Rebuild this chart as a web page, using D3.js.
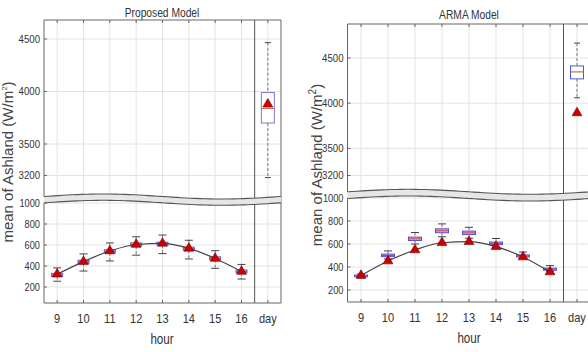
<!DOCTYPE html>
<html><head><meta charset="utf-8">
<script src="https://cdn.jsdelivr.net/npm/d3@7"></script>
<style>body{margin:0;background:#fff}svg{display:block}text{font-family:"Liberation Sans",Arial,sans-serif;fill:#333}</style>
</head><body><svg id="c" width="588" height="352"></svg>
<script>
// ---- data ----
const categories = ["9","10","11","12","13","14","15","16","day"];
const upperTicks = [3200,3500,4000,4500];
const lowerTicks = [200,400,600,800,1000];
// Proposed model: box stats per category
const propQ1   = [300,425,525,590,598,550,460,335,3700];
const propMed  = [315,440,540,605,612,565,473,348,3840];
const propQ3   = [330,455,555,620,627,580,487,362,3990];
const propLo   = [255,352,448,503,518,467,378,276,3180];
const propHi   = [382,515,620,678,695,645,546,415,4465];
const propMean = [322,442,543,605,616,568,472,348,3880];
// ARMA model
const armaQ1   = [315,490,630,698,682,595,487,372,4269];
const armaMed  = [322,500,645,715,697,605,495,380,4346];
const armaQ3   = [330,512,660,732,712,617,505,390,4412];
const armaLo   = [305,470,600,663,650,575,475,360,4060];
const armaHi   = [338,540,700,775,745,648,530,412,4665];
const armaMean = [326,452,548,611,620,577,487,357,3893];

const svg = d3.select("#c");

function panel(cfg){
  const g = svg.append("g");
  const x = d3.scaleLinear().domain([-0.5, 8.5]).range([cfg.x0, cfg.x1]);
  const yU = d3.scaleLinear().domain([3200,4500]).range(cfg.upper);
  const yL = d3.scaleLinear().domain([200,1000]).range(cfg.lower);
  const y = v => v >= 2000 ? yU(v) : yL(v);
  const axisCol = "#666";
  const idx = d3.range(categories.length);

  // gridlines
  g.selectAll(".vg").data(idx).join("line")
    .attr("x1", i=>x(i)).attr("x2", i=>x(i)).attr("y1", cfg.top).attr("y2", cfg.bottom)
    .attr("stroke","#e4e4e4").attr("stroke-width",1);
  g.selectAll(".hgu").data(upperTicks).join("line")
    .attr("x1", cfg.x0).attr("x2", cfg.x1).attr("y1", d=>yU(d)).attr("y2", d=>yU(d))
    .attr("stroke","#e4e4e4");
  g.selectAll(".hgl").data(lowerTicks).join("line")
    .attr("x1", cfg.x0).attr("x2", cfg.x1).attr("y1", d=>yL(d)).attr("y2", d=>yL(d))
    .attr("stroke","#e4e4e4");

  // ticks (inside)
  g.selectAll(".xt").data(idx).join("path")
    .attr("d", i=>`M${x(i)},${cfg.bottom}v-3M${x(i)},${cfg.top}v3`)
    .attr("stroke",axisCol);
  g.selectAll(".ytu").data(upperTicks).join("line")
    .attr("x1",cfg.x0).attr("x2",cfg.x0+3).attr("y1",d=>yU(d)).attr("y2",d=>yU(d)).attr("stroke",axisCol);
  g.selectAll(".ytl").data(lowerTicks).join("line")
    .attr("x1",cfg.x0).attr("x2",cfg.x0+3).attr("y1",d=>yL(d)).attr("y2",d=>yL(d)).attr("stroke",axisCol);

  // axes frame
  g.append("path").attr("fill","none").attr("stroke",axisCol)
    .attr("d",`M${cfg.x0},${cfg.bandTop}V${cfg.top}H${cfg.x1}V${cfg.bottom}H${cfg.x0}V${cfg.bandBot}`);
  g.append("line").attr("x1",x(7.5)).attr("x2",x(7.5)).attr("y1",cfg.top).attr("y2",cfg.bottom)
    .attr("stroke","#555");

  // break band
  const W = cfg.x1 - cfg.x0, A = 2.5;
  const xs = d3.range(0, 1.0001, 0.02).map(t => cfg.x0 + t*W);
  const wave = (c) => xs.map(px => [px, c - A*Math.sin(2*Math.PI*(px-cfg.x0)/W)]);
  const top = wave(cfg.bandTop), bot = wave(cfg.bandBot);
  const line = d3.line().curve(d3.curveBasis);
  g.append("path").attr("d", line(top) + "L" + line(bot.slice().reverse()).slice(1) + "Z")
    .attr("fill","#e6e6e6").attr("stroke","none");
  g.append("path").attr("d", line(top)).attr("fill","none").attr("stroke","#555").attr("stroke-width",1.1);
  g.append("path").attr("d", line(bot)).attr("fill","none").attr("stroke","#555").attr("stroke-width",1.1);

  // boxplots
  const S = cfg.stats;
  idx.forEach(i => {
    const isDay = i === 8;
    const bw = isDay ? 13 : cfg.bw, cw = isDay ? 6 : 8;
    const cx = x(i);
    const bx = g.append("g");
    bx.append("line").attr("x1",cx).attr("x2",cx).attr("y1",y(S.hi[i])).attr("y2",y(S.q3[i]))
      .attr("stroke","#777").attr("stroke-dasharray","3,2");
    bx.append("line").attr("x1",cx).attr("x2",cx).attr("y1",y(S.q1[i])).attr("y2",y(S.lo[i]))
      .attr("stroke","#777").attr("stroke-dasharray","3,2");
    [S.hi[i], S.lo[i]].forEach(v => bx.append("line").attr("x1",cx-cw/2).attr("x2",cx+cw/2)
      .attr("y1",y(v)).attr("y2",y(v)).attr("stroke","#444"));
    bx.append("rect").attr("x",cx-bw/2).attr("width",bw)
      .attr("y",y(S.q3[i])).attr("height",Math.max(1,y(S.q1[i])-y(S.q3[i])))
      .attr("fill", isDay ? "#fff" : cfg.boxFill).attr("stroke", isDay ? cfg.dayStroke : cfg.boxStroke).attr("stroke-width",1);
    bx.append("line").attr("x1",cx-bw/2).attr("x2",cx+bw/2).attr("y1",y(S.med[i])).attr("y2",y(S.med[i]))
      .attr("stroke","#d04545").attr("stroke-width",1);
  });

  // mean line (hours only)
  g.append("path").datum(idx.slice(0,8))
    .attr("d", d3.line().x(i=>x(i)).y(i=>y(S.mean[i])).curve(d3.curveMonotoneX))
    .attr("fill","none").attr("stroke","#444").attr("stroke-width",1.2);
  g.selectAll(".tri").data(idx).join("path")
    .attr("d", d3.symbol(d3.symbolTriangle, 42))
    .attr("transform", i=>`translate(${x(i)},${y(S.mean[i])})`)
    .attr("fill","#cc0000").attr("stroke","#7a0000").attr("stroke-width",0.6);

  // text helper with horizontal compression
  const txt = (tx, ty, s, size, sx, anchor) => g.append("text")
    .attr("transform",`translate(${tx},${ty}) scale(${sx},1)`)
    .attr("text-anchor",anchor).attr("dominant-baseline","central")
    .style("font-size",size+"px").text(s);

  upperTicks.forEach(v => txt(cfg.x0-4, yU(v), v, 10.5, 0.92, "end"));
  lowerTicks.forEach(v => txt(cfg.x0-4, yL(v), v, 10.5, 0.88, "end"));
  idx.forEach(i => txt(x(i), cfg.xLabY, categories[i], 13, 0.85, "middle"));
  txt(cfg.xc, cfg.hourY, "hour", 14.5, 0.8, "middle");
  txt(cfg.xc, cfg.titleY, cfg.title, 13.5, 0.76, "middle");

  const yl = g.append("text")
    .attr("transform",`translate(${cfg.ylabX},${cfg.ylabY}) rotate(-90)`)
    .attr("text-anchor","middle").style("font-size","15px").style("fill","#444");
  yl.append("tspan").text("mean of Ashland (W/m");
  yl.append("tspan").attr("dy",-6).style("font-size",cfg.supSize+"px").text("2");
  yl.append("tspan").attr("dy",6).text(")");
}

panel({
  x0:44, x1:281, top:20, bottom:303,
  upper:[175.5, 39], lower:[287, 203],
  bandTop:196.5, bandBot:202.8,
  bw:11, boxFill:"#dcc6ef", boxStroke:"#5a5ae0", dayStroke:"#7a7ad0",
  xLabY:319, hourY:339, xc:162, titleY:12, title:"Proposed Model",
  ylabX:13, ylabY:162, supSize:8,
  stats:{q1:propQ1,med:propMed,q3:propQ3,lo:propLo,hi:propHi,mean:propMean}
});
panel({
  x0:347.5, x1:590.5, top:24, bottom:302,
  upper:[175.5, 58], lower:[290, 198],
  bandTop:191.8, bandBot:198.5,
  bw:13, boxFill:"#cfb2e8", boxStroke:"#5b4bd0", dayStroke:"#4a5ad8",
  xLabY:318, hourY:338, xc:469, titleY:14, title:"ARMA Model",
  ylabX:322, ylabY:165, supSize:10,
  stats:{q1:armaQ1,med:armaMed,q3:armaQ3,lo:armaLo,hi:armaHi,mean:armaMean}
});
</script></body></html>
